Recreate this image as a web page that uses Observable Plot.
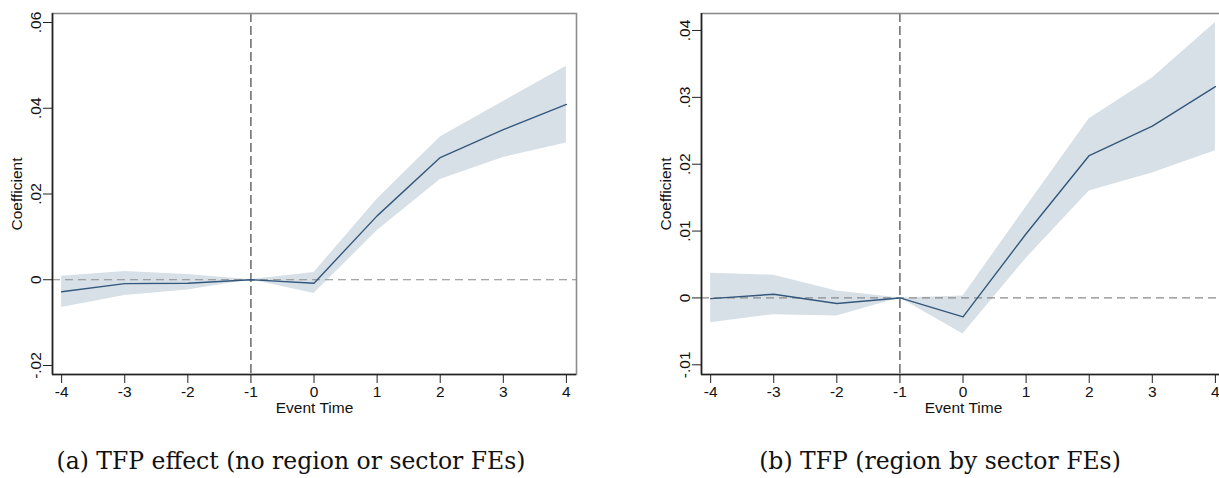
<!DOCTYPE html>
<html>
<head>
<meta charset="utf-8">
<script src="https://cdn.jsdelivr.net/npm/d3@7"></script>
<script src="https://cdn.jsdelivr.net/npm/@observablehq/plot@0.6"></script>
<style>
  html, body { margin: 0; padding: 0; background: #fff; }
  body { width: 1219px; height: 478px; overflow: hidden; position: relative; }
  .panel { position: absolute; top: 0; width: 600px; }
  .panel svg { max-width: none !important; }
  .caption { position: absolute; top: 447px; font-family: "DejaVu Serif", "Liberation Serif", serif; font-size: 23.5px; color: #111; white-space: nowrap; transform: translateX(-50%); }
</style>
</head>
<body>
<div id="panelA" class="panel" style="left:0px"></div>
<div id="panelB" class="panel" style="left:640px"></div>
<div class="caption" style="left:291px">(a) TFP effect (no region or sector FEs)</div>
<div class="caption" style="left:940px">(b) TFP (region by sector FEs)</div>
<script>
// Event-study coefficients and 95% confidence bands
const eventTime = [-4, -3, -2, -1, 0, 1, 2, 3, 4];

// (a) no region or sector fixed effects
const coefA = [-0.0028, -0.0009, -0.0008, 0, -0.0008, 0.0149, 0.0285, 0.0350, 0.0409];
const lowA  = [-0.0065, -0.0037, -0.0024, 0, -0.0032, 0.0114, 0.0234, 0.0285, 0.0319];
const highA = [0.0008, 0.0019, 0.0012, 0, 0.0017, 0.0188, 0.0333, 0.0416, 0.0498];
const yTicksA = [-0.02, 0, 0.02, 0.04, 0.06];

// (b) region-by-sector fixed effects
const coefB = [-0.0001, 0.00055, -0.00084, 0, -0.00284, 0.0096, 0.0213, 0.0257, 0.0316];
const lowB  = [-0.0037, -0.0025, -0.0027, 0, -0.0054, 0.0059, 0.0160, 0.0187, 0.0220];
const highB = [0.0037, 0.0034, 0.00105, 0, 0.0003, 0.0136, 0.0268, 0.0329, 0.0412];
const yTicksB = [-0.01, 0, 0.01, 0.02, 0.03, 0.04];

const xTicks = eventTime;

// Stata-style labels: ".04", "-.01", "0" (plain hyphen for negatives)
const fmtCoef = d => d === 0 ? "0" : d3.format(".2f")(d).replace("−", "-").replace("0.", ".");
const fmtTime = d => String(d);

function panel({coef, low, high, yTicks, yDomain, marginLeft, marginRight}) {
  const rows = eventTime.map((t, i) => ({t, coef: coef[i], low: low[i], high: high[i]}));
  const xDomain = [-4.145, 4.16];
  return Plot.plot({
    width: 600,
    height: 420,
    marginLeft,
    marginRight,
    marginTop: 13,
    marginBottom: 46,
    style: {fontFamily: "Liberation Sans, Arial, sans-serif", fontSize: "15.5px", color: "#111", background: "#fff", maxWidth: "none"},
    x: {domain: xDomain},
    y: {domain: yDomain},
    marks: [
      Plot.areaY(rows, {x: "t", y1: "low", y2: "high", fill: "#d8e0e7", curve: "linear"}),
      Plot.ruleY([0], {stroke: "#8a8a8a", strokeWidth: 1.2, strokeDasharray: "8,5"}),
      Plot.ruleX([-1], {stroke: "#333", strokeWidth: 1.1, strokeDasharray: "9,4"}),
      Plot.lineY(rows, {x: "t", y: "coef", stroke: "#33587c", strokeWidth: 1.4}),
      Plot.frame({stroke: "#8c8c8c", strokeWidth: 1.6}),
      Plot.ruleX([xDomain[0]], {stroke: "#222", strokeWidth: 1.6}),
      Plot.ruleY([yDomain[0]], {stroke: "#222", strokeWidth: 1.6}),
      Plot.axisX({ticks: xTicks, tickSize: 9, tickPadding: 2, tickFormat: fmtTime, stroke: "#222",
                  label: "Event Time", labelAnchor: "center", labelArrow: "none", labelOffset: 38}),
      Plot.axisY({ticks: yTicks, tickSize: 9, tickPadding: 3, tickFormat: fmtCoef, tickRotate: -90, stroke: "#222",
                  label: "Coefficient", labelAnchor: "center", labelArrow: "none", labelOffset: 42})
    ]
  });
}

document.getElementById("panelA").append(panel({
  coef: coefA, low: lowA, high: highA, yTicks: yTicksA,
  yDomain: [-0.0221, 0.0621], marginLeft: 52, marginRight: 24
}));

document.getElementById("panelB").append(panel({
  coef: coefB, low: lowB, high: highB, yTicks: yTicksB,
  yDomain: [-0.01145, 0.04254], marginLeft: 61, marginRight: 15
}));
</script>
</body>
</html>
